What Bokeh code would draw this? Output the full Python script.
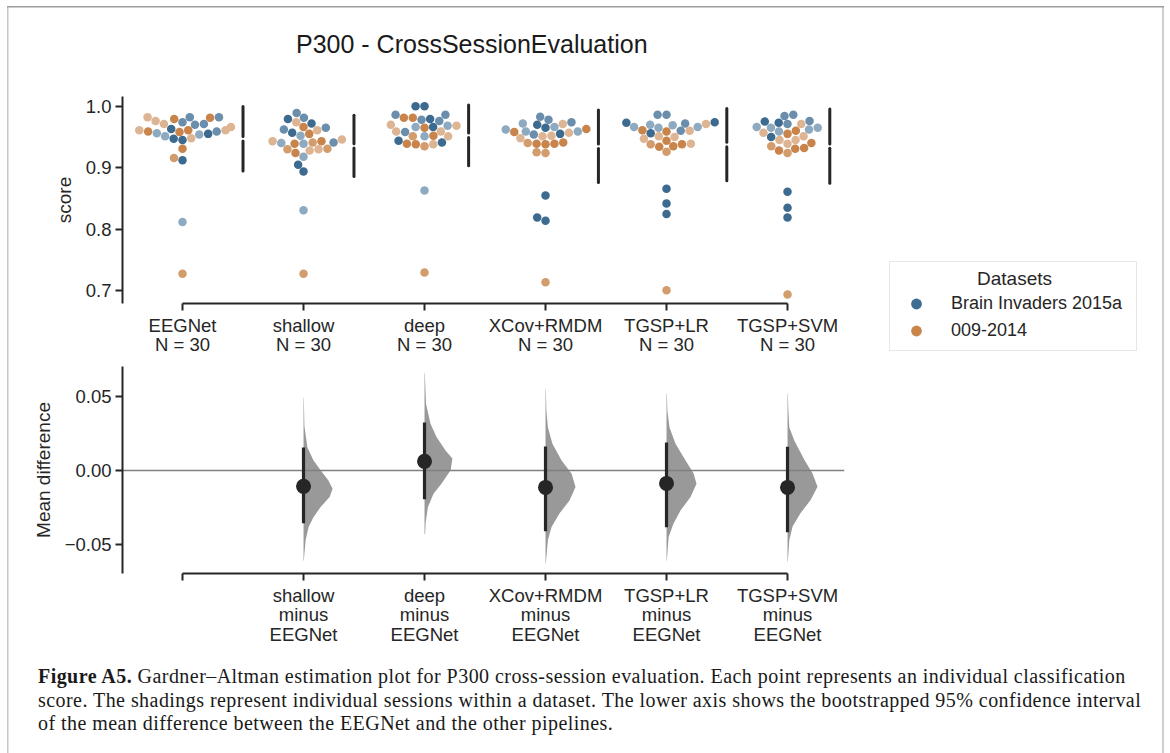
import numpy as np
from bokeh.plotting import figure
from bokeh.models import Range1d, FixedTicker, Legend, LegendItem, Div, Spacer
from bokeh.layouts import column, row
from bokeh.embed import file_html
from bokeh.resources import INLINE
from bokeh.core.properties import value

# ---------------------------------------------------------------- data
pipelines = ["EEGNet", "shallow", "deep", "XCov+RMDM", "TGSP+LR", "TGSP+SVM"]
n_sessions = [30, 30, 30, 30, 30, 30]
datasets = ["Brain Invaders 2015a", "009-2014"]
legend_title = "Datasets"
# session codes: b1-b3 = Brain Invaders 2015a sessions, o1-o3 = 009-2014 sessions
session_codes = ["b1", "b2", "b3", "o1", "o2", "o3"]

score_eegnet = [0.982, 0.982, 0.981, 0.979, 0.982, 0.976, 0.971, 0.974, 0.966, 0.963,
                0.970, 0.971, 0.961, 0.961, 0.959, 0.955, 0.951, 0.947, 0.959, 0.945,
                0.948, 0.954, 0.956, 0.958, 0.961, 0.931, 0.916, 0.912, 0.812, 0.728]
sess_eegnet = ["b2", "o3", "o1", "o1", "b2", "o3", "o3", "b2", "o3", "b1",
               "b2", "b2", "o1", "o3", "b2", "b1", "b3", "b1", "o1", "b1",
               "o3", "b3", "b3", "o1", "o3", "o1", "o2", "b1", "b3", "o2"]

score_shallow = [0.989, 0.979, 0.972, 0.981, 0.974, 0.962, 0.957, 0.965, 0.961, 0.966,
                 0.955, 0.952, 0.943, 0.940, 0.939, 0.939, 0.941, 0.943, 0.941, 0.946,
                 0.930, 0.924, 0.918, 0.928, 0.930, 0.931, 0.905, 0.894, 0.831, 0.728]
sess_shallow = ["b2", "b1", "b1", "b2", "o3", "b2", "b1", "b2", "o3", "o1",
                "o1", "b3", "o1", "b3", "b3", "o1", "o2", "o3", "b2", "o3",
                "o3", "o1", "b3", "o3", "o2", "o2", "b1", "b1", "b3", "o2"]

score_deep = [1.000, 1.000, 0.986, 0.981, 0.979, 0.978, 0.986, 0.976, 0.981, 0.970,
              0.959, 0.968, 0.966, 0.965, 0.966, 0.958, 0.959, 0.968, 0.952, 0.951,
              0.951, 0.951, 0.944, 0.941, 0.938, 0.935, 0.938, 0.939, 0.863, 0.730]
sess_deep = ["b1", "b1", "b2", "o1", "b1", "b2", "b2", "b2", "o1", "o3",
             "o3", "b3", "b1", "o1", "b3", "b2", "o3", "o3", "o1", "b3",
             "o2", "o3", "b1", "b1", "o1", "o2", "o3", "o1", "b3", "o2"]

score_xcov = [0.983, 0.974, 0.971, 0.966, 0.970, 0.972, 0.978, 0.963, 0.959, 0.957,
              0.955, 0.952, 0.951, 0.954, 0.958, 0.959, 0.962, 0.965, 0.948, 0.941,
              0.939, 0.938, 0.939, 0.940, 0.925, 0.924, 0.855, 0.819, 0.814, 0.714]
sess_xcov = ["b2", "b2", "o3", "b3", "b1", "b3", "b2", "o1", "b3", "o3",
             "b1", "o3", "o3", "b2", "o1", "b3", "b3", "b1", "o3", "o1",
             "o1", "o1", "o1", "o2", "o2", "o2", "b1", "b1", "b1", "o2"]

score_tgsp_lr = [0.986, 0.986, 0.973, 0.966, 0.971, 0.966, 0.969, 0.972, 0.974, 0.965,
                 0.970, 0.960, 0.961, 0.956, 0.959, 0.951, 0.950, 0.960, 0.947, 0.944,
                 0.938, 0.934, 0.926, 0.935, 0.938, 0.939, 0.866, 0.842, 0.825, 0.701]
sess_tgsp_lr = ["b2", "b2", "b1", "b3", "o3", "b3", "b3", "b2", "b1", "b3",
                "b3", "b2", "o1", "b1", "o1", "o3", "o3", "o3", "o3", "o1",
                "o1", "o1", "o2", "o1", "o2", "o3", "b1", "b1", "b1", "o2"]

score_tgsp_svm = [0.986, 0.984, 0.973, 0.965, 0.962, 0.971, 0.959, 0.971, 0.975, 0.965,
                  0.976, 0.966, 0.951, 0.945, 0.955, 0.960, 0.957, 0.950, 0.939, 0.945,
                  0.935, 0.928, 0.924, 0.931, 0.932, 0.940, 0.861, 0.835, 0.819, 0.694]
sess_tgsp_svm = ["b2", "b2", "b1", "b3", "b3", "b2", "b3", "o3", "b1", "b3",
                 "b2", "b3", "o3", "o3", "o1", "o1", "o3", "b1", "o3", "o3",
                 "o2", "o1", "o2", "o1", "o1", "o1", "b1", "b1", "b1", "o2"]

all_scores = [score_eegnet, score_shallow, score_deep, score_xcov, score_tgsp_lr, score_tgsp_svm]
all_sessions = [sess_eegnet, sess_shallow, sess_deep, sess_xcov, sess_tgsp_lr, sess_tgsp_svm]

score_ticks = [0.7, 0.8, 0.9, 1.0]
score_tick_labels = ["0.7", "0.8", "0.9", "1.0"]

# lower panel: mean difference vs EEGNet with bootstrap 95% CI
contrasts = ["shallow", "deep", "XCov+RMDM", "TGSP+LR", "TGSP+SVM"]
mean_diff = [-0.0108, 0.0061, -0.0115, -0.0088, -0.0115]
ci_low = [-0.0358, -0.0196, -0.0412, -0.0385, -0.0419]
ci_high = [0.0155, 0.0324, 0.0162, 0.0189, 0.0160]
diff_ticks = [-0.05, 0.0, 0.05]
diff_tick_labels = ["\u22120.05", "0.00", "0.05"]

# bootstrap distribution outlines (difference value, relative density)
boot_y_shallow = [0.049, 0.030, 0.0155, 0.0068, 0.0, -0.0068, -0.0124, -0.018, -0.0248, -0.0316, -0.0383, -0.0473, -0.061]
boot_d_shallow = [0.01, 0.03, 0.13, 0.33, 0.57, 0.83, 0.97, 0.87, 0.57, 0.33, 0.17, 0.07, 0.01]
boot_y_deep = [0.066, 0.045, 0.0315, 0.0225, 0.0135, 0.008, 0.0, -0.0088, -0.0158, -0.025, -0.035, -0.043]
boot_d_deep = [0.01, 0.05, 0.20, 0.40, 0.70, 0.93, 0.87, 0.57, 0.30, 0.11, 0.04, 0.02]
boot_y_xcov = [0.055, 0.040, 0.029, 0.018, 0.0068, -0.0023, -0.0113, -0.0203, -0.029, -0.0383, -0.047, -0.063]
boot_d_xcov = [0.01, 0.03, 0.08, 0.23, 0.53, 0.87, 1.00, 0.80, 0.47, 0.20, 0.08, 0.01]
boot_y_lr = [0.052, 0.040, 0.029, 0.018, 0.0068, -0.002, -0.009, -0.018, -0.027, -0.036, -0.045, -0.061]
boot_d_lr = [0.01, 0.03, 0.10, 0.30, 0.63, 0.90, 1.00, 0.80, 0.47, 0.23, 0.07, 0.01]
boot_y_svm = [0.052, 0.040, 0.029, 0.020, 0.0068, -0.002, -0.011, -0.020, -0.029, -0.038, -0.047, -0.062]
boot_d_svm = [0.01, 0.03, 0.06, 0.23, 0.57, 0.83, 1.00, 0.77, 0.43, 0.17, 0.06, 0.01]
boot_y = [boot_y_shallow, boot_y_deep, boot_y_xcov, boot_y_lr, boot_y_svm]
boot_d = [boot_d_shallow, boot_d_deep, boot_d_xcov, boot_d_lr, boot_d_svm]

chart_title = "P300 - CrossSessionEvaluation"
caption_bold = "Figure A5."
caption_lines = [
    "Gardner–Altman estimation plot for P300 cross-session evaluation. Each point represents an individual classification",
    "score. The shadings represent individual sessions within a dataset. The lower axis shows the bootstrapped 95% confidence interval",
    "of the mean difference between the EEGNet and the other pipelines.",
]

# ---------------------------------------------------------------- styles
session_colors = {"b1": "#3d6a8f", "b2": "#6a8eac", "b3": "#8eaac1",
                  "o1": "#c8844a", "o2": "#d39c6d", "o3": "#ddb592"}
legend_colors = ["#3f6c90", "#c9854a"]
INK = "#262626"
FONT = "Liberation Sans"

W = 1170
PXX = 121.0                      # pixels per category
LEFT = 122
TITLE_H = 70
F1_W, F1_H = 726, 207
LEG_X, LEG_Y, LEG_W, LEG_H = 889, 261, 250, 90
P1_RIGHT = LEG_X - LEFT - F1_W
Y1 = (0.6795, 1.0157)
F2_W, F2_H = 722, 207
Y2 = (-0.0697, 0.0702)
X0 = -0.496
PXY1 = F1_H / (Y1[1] - Y1[0])
R_PT = 4.25                      # swarm point radius (px)
TOP1, BOT1 = 96 - TITLE_H, 58


def beeswarm(vals, center):
    """seaborn-like swarm placement computed in pixel space"""
    ys = np.asarray(vals, float) * PXY1
    mid = center * PXX
    order = np.argsort(ys, kind="mergesort")
    placed = []
    xs = np.zeros(len(ys))
    for i in order:
        yi = ys[i]
        nb = [(xj, yj) for (xj, yj) in placed if yi - yj < 2 * R_PT]
        cands = [mid]
        left_first = True
        for xj, yj in nb:
            dy = yi - yj
            dx = np.sqrt(max((2 * R_PT) ** 2 - dy ** 2, 0.0)) * 1.05
            cands.extend([xj - dx, xj + dx] if left_first else [xj + dx, xj - dx])
            left_first = not left_first
        cands = sorted(cands, key=lambda c: abs(c - mid))
        chosen = cands[-1]
        for c in cands:
            if all((c - xj) ** 2 + (yi - yj) ** 2 >= (2 * R_PT) ** 2 - 1e-9 for xj, yj in nb):
                chosen = c
                break
        placed.append((chosen, yi))
        xs[i] = chosen
    half = 0.4 * PXX
    xs = np.clip(xs, mid - half, mid + half)
    return xs / PXX


def style_fig(p):
    p.grid.visible = False
    p.outline_line_color = None
    p.border_fill_alpha = 0
    p.background_fill_alpha = 0
    p.title.text = ""
    p.title.standoff = 0
    p.title.text_font_size = "1px"


def style_axis(ax):
    ax.axis_line_width = 2
    ax.axis_line_color = INK
    ax.major_tick_line_width = 2
    ax.major_tick_line_color = INK
    ax.major_tick_out = 7
    ax.major_tick_in = 0
    ax.minor_tick_line_color = None
    ax.major_label_text_font = FONT
    ax.major_label_text_font_size = "18.5px"
    ax.major_label_text_color = INK
    ax.major_label_text_line_height = 0.93
    ax.axis_label_text_font = FONT
    ax.axis_label_text_font_size = "19px"
    ax.axis_label_text_font_style = "normal"
    ax.axis_label_text_color = INK


# ---------------------------------------------------------------- title
title_div = Div(text=(f'<div style="font-family:\'{FONT}\';font-size:25px;line-height:30px;color:#1a1a1a;'
                      f'padding-left:296px;padding-top:29px;white-space:nowrap;">{chart_title}</div>'),
                width=W, height=TITLE_H, margin=0)

# ---------------------------------------------------------------- top panel
p1 = figure(x_range=Range1d(X0, X0 + F1_W / PXX), y_range=Range1d(*Y1),
            frame_width=F1_W, frame_height=F1_H,
            min_border_left=LEFT, min_border_right=P1_RIGHT,
            min_border_top=TOP1, min_border_bottom=BOT1,
            output_backend="svg", toolbar_location=None)
style_fig(p1)
style_axis(p1.xaxis[0])
style_axis(p1.yaxis[0])
p1.xaxis.ticker = FixedTicker(ticks=list(range(len(pipelines))))
p1.xaxis.major_label_overrides = {i: f"{name}\nN = {n}" for i, (name, n) in enumerate(zip(pipelines, n_sessions))}
p1.xaxis.bounds = (0, len(pipelines) - 1)
p1.xaxis.major_label_standoff = 4
p1.yaxis.ticker = FixedTicker(ticks=score_ticks)
p1.yaxis.major_label_overrides = dict(zip(score_ticks, score_tick_labels))
p1.yaxis.axis_label = "score"
p1.yaxis.major_label_standoff = 4
p1.yaxis.axis_label_standoff = 8

gap = 0.0036
gx, gy0, gy1 = [], [], []
for k, (vals, sess) in enumerate(zip(all_scores, all_sessions)):
    xs = beeswarm(vals, k)
    cols = [session_colors[s] for s in sess]
    p1.scatter(x=list(xs), y=vals, size=2 * R_PT, fill_color=cols, line_color=None)
    m = float(np.mean(vals))
    sd = float(np.std(vals, ddof=1))
    xl = float(xs.max()) + 0.1
    gx += [xl, xl]
    gy0 += [m - sd, m + gap]
    gy1 += [m - gap, m + sd]
p1.segment(x0=gx, y0=gy0, x1=gx, y1=gy1, line_color=INK, line_width=3, line_cap="round")

# ---------------------------------------------------------------- legend box (own small plot)
pleg = figure(x_range=Range1d(0, 1), y_range=Range1d(0, 1), x_axis_type=None, y_axis_type=None,
              frame_width=LEG_W, frame_height=LEG_H, min_border=0,
              output_backend="svg", toolbar_location=None)
style_fig(pleg)
# legend heading drawn in the box's own coordinates (centered)
pleg.text(x=[0.5], y=[1 - 16.5 / LEG_H], text=[legend_title], text_font=value(FONT),
          text_font_size="19px", text_color=INK, text_align="center", text_baseline="middle")
# key swatches only: one hidden point each (outside the visible range) so the legend can draw its glyph
r_bi = pleg.scatter(x=[0.5], y=[-9.0], fill_color=legend_colors[0], line_color=None)
r_09 = pleg.scatter(x=[0.5], y=[-9.0], fill_color=legend_colors[1], line_color=None)
legend = Legend(items=[LegendItem(label=datasets[0], renderers=[r_bi]),
                       LegendItem(label=datasets[1], renderers=[r_09])],
                title=" ", location="top_left",
                padding=6, spacing=0, margin=0, glyph_width=40, glyph_height=27,
                label_standoff=15, label_width=179, label_height=27,
                title_standoff=0,
                label_text_font=FONT, label_text_font_size="18px", label_text_color=INK,
                title_text_font=FONT, title_text_font_size="19px", title_text_font_style="normal",
                title_text_color=INK,
                border_line_color="#cfcfcf", border_line_width=1.5,
                background_fill_alpha=0.0)
pleg.add_layout(legend)
leg_col = column(Spacer(width=LEG_W, height=LEG_Y - TITLE_H), pleg, spacing=0)

# ---------------------------------------------------------------- bottom panel
p2 = figure(x_range=Range1d(X0, X0 + F2_W / PXX), y_range=Range1d(*Y2),
            frame_width=F2_W, frame_height=F2_H,
            min_border_left=LEFT, min_border_right=W - LEFT - F2_W,
            min_border_top=5, min_border_bottom=80,
            output_backend="svg", toolbar_location=None)
style_fig(p2)
style_axis(p2.xaxis[0])
style_axis(p2.yaxis[0])
p2.xaxis.ticker = FixedTicker(ticks=list(range(len(pipelines))))
over = {0: ""}
for i, c in enumerate(contrasts):
    over[i + 1] = f"{c}\nminus\n{pipelines[0]}"
p2.xaxis.major_label_overrides = over
p2.xaxis.bounds = (0, len(pipelines) - 1)
p2.xaxis.major_label_standoff = 4
p2.yaxis.ticker = FixedTicker(ticks=diff_ticks)
p2.yaxis.major_label_overrides = dict(zip(diff_ticks, diff_tick_labels))
p2.yaxis.axis_label = "Mean difference"
p2.yaxis.major_label_standoff = 4
p2.yaxis.axis_label_standoff = 8

VW = 30.0 / PXX
vxs, vys = [], []
for i, (yy, dd) in enumerate(zip(boot_y, boot_d)):
    xc = i + 1
    vxs.append([xc + d * VW for d in dd] + [xc, xc])
    vys.append(list(yy) + [yy[-1], yy[0]])
p2.patches(xs=vxs, ys=vys, fill_color="#999999", line_color=None)
p2.hspan(y=[0.0], line_color="#808080", line_width=1.6)
cx = [i + 1 for i in range(len(contrasts))]
p2.segment(x0=cx, y0=ci_low, x1=cx, y1=ci_high, line_color=INK, line_width=3.2)
p2.scatter(x=cx, y=mean_diff, size=15, fill_color=INK, line_color=None)

# ---------------------------------------------------------------- caption
cap_html = (
    '<div style="font-family:\'Liberation Serif\',serif;font-size:20px;line-height:23.5px;color:#1a1a1a;'
    'letter-spacing:0.45px;padding-left:38px;padding-top:12px;white-space:nowrap;">'
    f'<b>{caption_bold}</b> {caption_lines[0]}<br>{caption_lines[1]}<br>{caption_lines[2]}</div>'
)
cap = Div(text=cap_html, width=W, height=100, margin=0)

frame_bg = ("linear-gradient(#9d9d9d,#9d9d9d) 7px 6px / 1157px 1.5px no-repeat, "
            "linear-gradient(#c6c6c6,#c6c6c6) 7px 6px / 1.5px 900px no-repeat, "
            "linear-gradient(#cfcfcf,#cfcfcf) 1162px 6px / 2px 900px no-repeat, #ffffff")
layout = column(title_div, row(p1, leg_col, spacing=0), p2, cap, spacing=0,
                styles={"background": frame_bg})
with open("out.html", "w") as f:
    f.write(file_html(layout, INLINE))
